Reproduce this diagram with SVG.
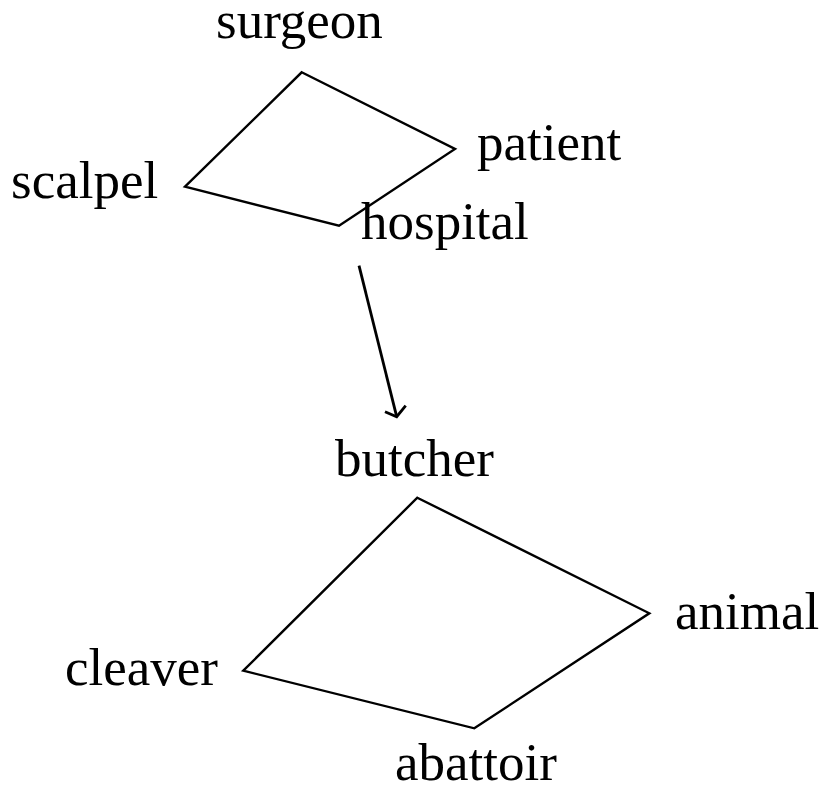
<svg xmlns="http://www.w3.org/2000/svg" width="823" height="793" viewBox="0 0 823 793">
<style>
text{font-family:"Liberation Serif","Times New Roman",serif;font-size:53px;fill:#000}
.shape{fill:none;stroke:#000;stroke-width:2.4;stroke-linejoin:miter}
.conn{fill:none;stroke:#000;stroke-width:2.8}
</style>
<rect width="823" height="793" fill="#fff"/>
<g id="analogy-source">
<polygon class="shape" points="301.7,72.3 455,149 339,225.7 185,186.7"/>
</g>
<g id="surgeon"><text x="216" y="37.5">surgeon</text></g>
<g id="patient"><text x="477" y="160">patient</text></g>
<g id="scalpel"><text x="11" y="198">scalpel</text></g>
<g id="hospital"><text x="361" y="239">hospital</text></g>
<g id="analogy-target">
<polygon class="shape" points="417.3,497.7 649.3,613.3 474.3,728.3 243.3,670.7"/>
</g>
<g id="butcher"><text x="335" y="476">butcher</text></g>
<g id="animal"><text x="675" y="629">animal</text></g>
<g id="cleaver"><text x="65" y="685">cleaver</text></g>
<g id="abattoir"><text x="395" y="780">abattoir</text></g>
<g id="connectors">
<line class="conn" x1="359" y1="265.7" x2="396.7" y2="416.7"/>
<polyline class="conn" points="385,411.7 396.7,416.7 405.7,405.7"/>
</g>
</svg>
